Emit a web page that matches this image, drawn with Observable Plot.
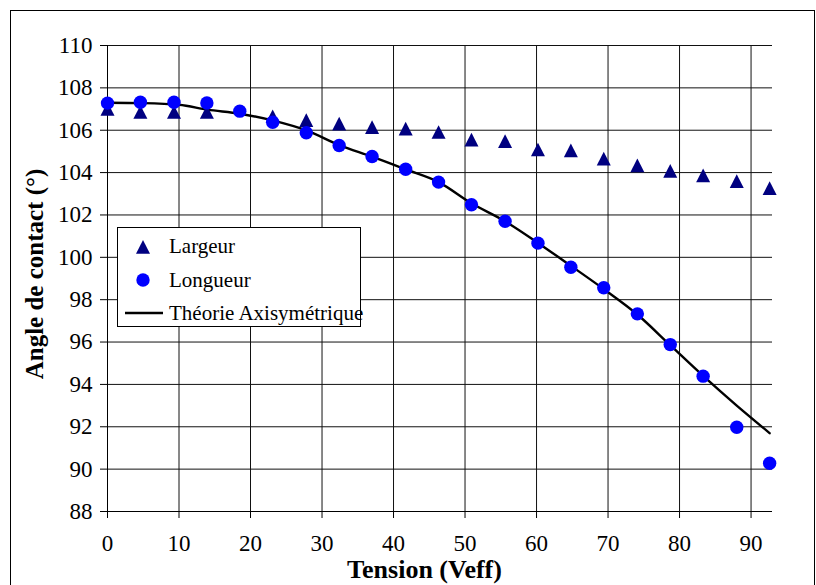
<!DOCTYPE html>
<html>
<head>
<meta charset="utf-8">
<script src="https://cdn.jsdelivr.net/npm/d3@7"></script>
<script src="https://cdn.jsdelivr.net/npm/@observablehq/plot@0.6"></script>
<style>
  html, body { margin: 0; padding: 0; background: #fff; overflow: hidden; }
  #wrap { position: relative; width: 816px; height: 585px; }
  #border { position: absolute; left: 10px; top: 10px; width: 805px; height: 620px; border: 1px solid #000; box-sizing: border-box; pointer-events: none; }
  #chart svg { display: block; }
  #chart svg text { font-family: 'Liberation Serif', 'Times New Roman', serif; font-variant-numeric: normal; }
</style>
</head>
<body>
<div id="wrap"><div id="chart"></div><div id="border"></div></div>
<script>
// ---- data ----
const tension = [0, 4.6, 9.3, 13.9, 18.5, 23.1, 27.8, 32.4, 37.0, 41.7, 46.3, 50.9, 55.6, 60.2, 64.8, 69.4, 74.1, 78.7, 83.3, 88.0, 92.6];
const largeur = [107.0, 106.85, 106.85, 106.85, null, 106.65, 106.47, 106.3, 106.14, 106.07, 105.91, 105.55, 105.48, 105.08, 105.04, 104.65, 104.33, 104.07, 103.86, 103.59, 103.26];
const longueur = [107.28, 107.32, 107.32, 107.29, 106.9, 106.38, 105.88, 105.28, 104.76, 104.16, 103.55, 102.48, 101.7, 100.67, 99.53, 98.56, 97.33, 95.88, 94.39, 91.98, 90.28];
const theoryV = [0, 5, 10, 14, 18.5, 23.2, 27.9, 32.4, 37.0, 41.7, 46.3, 50.9, 55.6, 60.2, 64.8, 69.4, 74.1, 78.7, 83.3, 88.0, 92.6];
const theoryAngle = [107.3, 107.28, 107.2, 106.97, 106.78, 106.45, 105.98, 105.3, 104.75, 104.15, 103.55, 102.55, 101.7, 100.68, 99.6, 98.5, 97.3, 95.85, 94.4, 93.0, 91.7];
const xTicks = [0, 10, 20, 30, 40, 50, 60, 70, 80, 90];
const yTicks = [88, 90, 92, 94, 96, 98, 100, 102, 104, 106, 108, 110];
const seriesNames = ["Largeur", "Longueur", "Théorie Axisymétrique"];
const xLabel = "Tension (Veff)";
const yLabel = "Angle de contact (°)";

const largeurData = tension.map((v, i) => ({v, a: largeur[i]}));
const longueurData = tension.map((v, i) => ({v, a: longueur[i]}));
const theoryData = theoryV.map((v, i) => ({v, a: theoryAngle[i]}));

const FONT = "'Liberation Serif', 'Times New Roman', serif";
const NAVY = "#000080";
const BLUE = "#0000ff";

// triangle centred on its bounding box (like spreadsheet markers)
const triSym = {
  draw(ctx, size) {
    const a = Math.sqrt(size / Math.PI);
    ctx.moveTo(0, -a);
    ctx.lineTo(a, a * 0.95);
    ctx.lineTo(-a, a * 0.95);
    ctx.closePath();
  }
};

function legendMark() {
  const g = d3.create("svg:g").attr("font-family", FONT).attr("text-anchor", "start");
  g.append("rect").attr("x", 117.5).attr("y", 227.5).attr("width", 243).attr("height", 99)
    .attr("fill", "#fff").attr("stroke", "#000").attr("stroke-width", 1);
  g.append("path").attr("transform", "translate(143,247)")
    .attr("d", d3.symbol(triSym, Math.PI * 7 * 7)()).attr("fill", NAVY);
  g.append("circle").attr("cx", 143).attr("cy", 280).attr("r", 6.7).attr("fill", BLUE);
  g.append("line").attr("x1", 125).attr("x2", 163).attr("y1", 313).attr("y2", 313)
    .attr("stroke", "#000").attr("stroke-width", 2.4);
  const ys = [253, 287, 320];
  seriesNames.forEach((t, i) => {
    g.append("text").attr("x", 169).attr("y", ys[i]).attr("font-size", 21)
      .attr("text-anchor", "start").attr("fill", "#000").text(t);
  });
  return g.node();
}

const chart = Plot.plot({
  width: 816,
  height: 585,
  marginLeft: 107,
  marginRight: 44,
  marginTop: 45,
  marginBottom: 74,
  style: {fontFamily: FONT, background: "transparent", color: "#000"},
  x: {domain: [0, 93], label: null},
  y: {domain: [88, 110], label: null},
  marks: [
    Plot.gridX(xTicks, {stroke: "#111", strokeOpacity: 1, strokeWidth: 1}),
    Plot.gridY(yTicks, {stroke: "#111", strokeOpacity: 1, strokeWidth: 1}),
    Plot.axisX(xTicks, {tickSize: 7, tickPadding: 16, fontSize: 23, fontFamily: FONT, fontVariant: "normal", label: null, stroke: "#000"}),
    Plot.axisY(yTicks, {tickSize: 7, tickPadding: 8, fontSize: 23, fontFamily: FONT, fontVariant: "normal", label: null, stroke: "#000"}),
    Plot.ruleX([0], {stroke: "#000"}),
    Plot.ruleY([88], {stroke: "#000"}),
    Plot.line(theoryData, {x: "v", y: "a", curve: "monotone-x", stroke: "#000", strokeWidth: 2.4}),
    Plot.dot(largeurData, {x: "v", y: "a", symbol: triSym, r: 7, fill: NAVY, stroke: "none"}),
    Plot.dot(longueurData, {x: "v", y: "a", r: 6.7, fill: BLUE, stroke: "none"}),
    Plot.text([xLabel], {frameAnchor: "bottom", text: d => d, dy: 66, dx: -15.5, lineAnchor: "bottom",
      textAnchor: "middle", fontSize: 26, fontWeight: "bold", fontFamily: FONT, fill: "#000"}),
    Plot.text([yLabel], {frameAnchor: "left", text: d => d, rotate: -90, dx: -65, dy: -4.5, lineAnchor: "bottom",
      textAnchor: "middle", fontSize: 25, fontWeight: "bold", fontFamily: FONT, fill: "#000"}),
    legendMark
  ]
});
document.getElementById("chart").appendChild(chart);
</script>
</body>
</html>
